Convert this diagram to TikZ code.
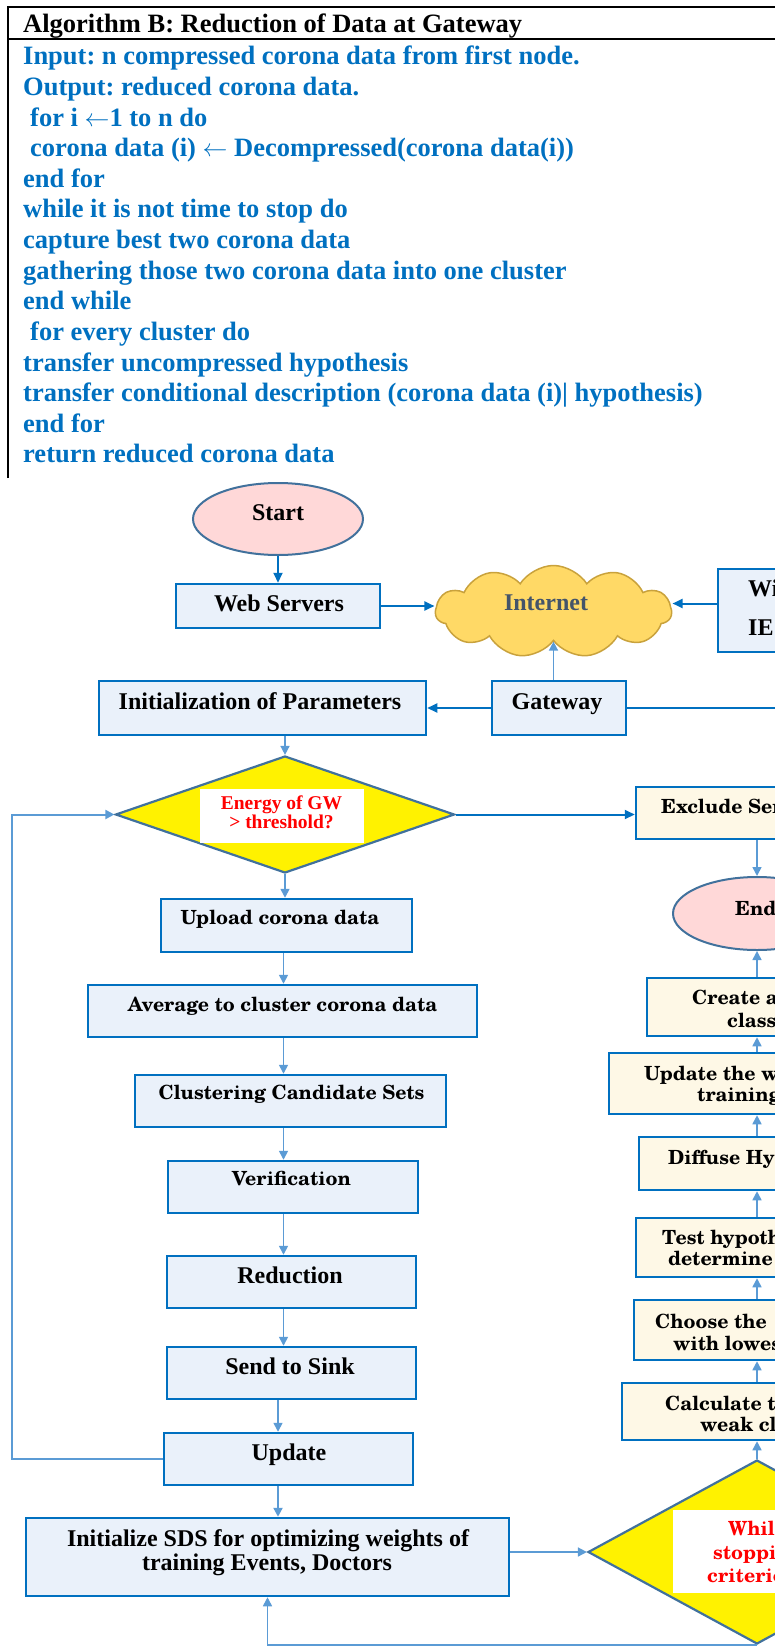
\documentclass[tikz,border=0pt]{standalone}
\usepackage{fontspec}
\setmainfont{Liberation Serif}
\newfontfamily\cent{TeX Gyre Schola}
\frenchspacing
\usetikzlibrary{shapes.geometric,shapes.symbols,arrows.meta,calc}
\definecolor{sblue}{HTML}{0070C0}
\definecolor{lblue}{HTML}{5B9BD5}
\definecolor{bfill}{HTML}{EAF1FA}
\definecolor{cfill}{HTML}{FEF8E6}
\definecolor{pinkf}{HTML}{FFD8D8}
\definecolor{steel}{HTML}{41719C}
\definecolor{goldf}{HTML}{FFD966}
\definecolor{goldb}{HTML}{C9A23C}
\definecolor{slate}{HTML}{44546A}
\definecolor{redt}{HTML}{FF0000}
\begin{document}
\begin{tikzpicture}[x=1pt,y=-1pt,
  lbox/.style={draw=sblue, fill=bfill, line width=2.5pt, rectangle, inner sep=0pt},
  rbox/.style={draw=sblue, fill=cfill, line width=2.5pt, rectangle, inner sep=0pt},
  term/.style={ellipse, draw=steel, fill=pinkf, line width=2pt, inner sep=0pt},
  dec/.style={diamond, draw=steel, fill=yellow, line width=2.2pt, inner sep=0pt},
  wbox/.style={rectangle, fill=white, inner sep=0pt},
  sarr/.style={draw=sblue, line width=2pt, -{Triangle[length=10pt,width=9pt]}},
  larr/.style={draw=lblue, line width=1.6pt, -{Triangle[length=9pt,width=9pt]}},
  sline/.style={draw=sblue, line width=2pt},
  algt/.style={anchor=base west, inner sep=0pt, text=sblue, font=\fontsize{26.5}{30}\selectfont\bfseries},
  ttx/.style={anchor=base, inner sep=0pt, font=\fontsize{24}{24}\selectfont\bfseries},
  ctx/.style={anchor=base, inner sep=0pt, font=\cent\fontsize{19.5}{22}\selectfont\bfseries},
  ctw/.style={ctx, anchor=base west},
]
\useasboundingbox (0,0) rectangle (775,1648);
\clip (0,0) rectangle (775,1648);

% ---------- Algorithm box ----------
\draw[black, line width=2pt] (8,478) -- (8,7) -- (800,7);
\draw[black, line width=2.5pt] (8,39) -- (800,39);
\node[algt, text=black] (a0) at (23,33) {Algorithm B: Reduction of Data at Gateway};
\node[algt] (a1) at (23,65) {Input: n compressed corona data from first node.};
\node[algt] (a2) at (23,95.6) {Output: reduced corona data.};
\node[algt] (a3) at (30,126.2) {for i $\leftarrow$1 to n do};
\node[algt] (a4) at (30,156.8) {corona data (i) $\leftarrow$ Decompressed(corona data(i))};
\node[algt] (a5) at (23,187.4) {end for};
\node[algt] (a6) at (23,218) {while it is not time to stop do};
\node[algt] (a7) at (23,248.6) {capture best two corona data};
\node[algt] (a8) at (23,279.2) {gathering those two corona data into one cluster};
\node[algt] (a9) at (23,309.8) {end while};
\node[algt] (a10) at (30,340.4) {for every cluster do};
\node[algt] (a11) at (23,371) {transfer uncompressed hypothesis};
\node[algt] (a12) at (23,401.6) {transfer conditional description (corona data (i)| hypothesis)};
\node[algt] (a13) at (23,432.2) {end for};
\node[algt] (a14) at (23,462.8) {return reduced corona data};

% ---------- Flowchart shapes ----------
\node[term, minimum width=170pt, minimum height=72pt] (start) at (278,519) {};
\node[lbox, minimum width=204pt, minimum height=44pt] (web) at (278,606) {};
\node[cloud, cloud puffs=11, cloud puff arc=115, aspect=2.6, draw=goldb, fill=goldf, line width=1.5pt,
      minimum width=236pt, minimum height=92pt, inner sep=0pt] (cloud) at (553.5,611.5) {};
\node[lbox, minimum width=200pt, minimum height=83pt] (wi) at (818,610.5) {};
\node[lbox, minimum width=327pt, minimum height=54pt] (init) at (262.5,708) {};
\node[lbox, minimum width=134pt, minimum height=54pt] (gw) at (559,708) {};
\node[dec, minimum width=339pt, minimum height=117pt] (d1) at (285,814.5) {};
\node[wbox, minimum width=164pt, minimum height=54pt] (w1) at (282,816) {};
\node[rbox, minimum width=242pt, minimum height=52pt] (exclude) at (757,813) {};
\node[term, minimum width=168pt, minimum height=73pt] (end) at (757,913.5) {};
\node[rbox, minimum width=220pt, minimum height=58pt] (create) at (757,1007) {};
\node[rbox, minimum width=296pt, minimum height=61pt] (updw) at (757,1083.5) {};
\node[rbox, minimum width=236pt, minimum height=53pt] (diffuse) at (757,1163.5) {};
\node[rbox, minimum width=242pt, minimum height=59pt] (test) at (757,1247.5) {};
\node[rbox, minimum width=246pt, minimum height=60pt] (choose) at (757,1330) {};
\node[rbox, minimum width=270pt, minimum height=57pt] (calc) at (757,1411.5) {};
\node[dec, minimum width=338pt, minimum height=184pt] (d2) at (757,1552) {};
\node[wbox, minimum width=168pt, minimum height=83pt] (w2) at (757,1551.5) {};
\node[lbox, minimum width=251pt, minimum height=53pt] (upload) at (286.5,925.5) {};
\node[lbox, minimum width=389pt, minimum height=52pt] (average) at (282.5,1011) {};
\node[lbox, minimum width=311pt, minimum height=52pt] (clust) at (290.5,1101) {};
\node[lbox, minimum width=250pt, minimum height=52pt] (verif) at (293,1187) {};
\node[lbox, minimum width=249pt, minimum height=52pt] (reduc) at (291.5,1282) {};
\node[lbox, minimum width=249pt, minimum height=52pt] (send) at (291.5,1373) {};
\node[lbox, minimum width=249pt, minimum height=52pt] (update) at (288.5,1459) {};
\node[lbox, minimum width=483pt, minimum height=78pt] (sds) at (267.5,1557) {};

% ---------- Texts ----------
\node[ttx] (t-start) at (278,520) {Start};
\node[ttx] (t-web) at (279,611) {Web Servers};
\node[ttx, text=slate] (t-net) at (546,610) {Internet};
\node[ttx, anchor=base west] (t-wi1) at (748,596) {Wi};
\node[ttx, anchor=base west] (t-wi2) at (748,635) {IE};
\node[ttx] (t-init) at (260,709) {Initialization of Parameters};
\node[ttx] (t-gw) at (557,709) {Gateway};
\node[ttx, text=redt, font=\fontsize{19.5}{20}\selectfont\bfseries] (t-d1a) at (281.5,809) {Energy of GW};
\node[ttx, text=redt, font=\fontsize{19.5}{20}\selectfont\bfseries] (t-d1b) at (281.5,828) {> threshold?};
\node[ctw] (t-excl) at (661,813) {Exclude Ser};
\node[ctw] (t-end) at (735,915) {End};
\node[ctw] (t-cr1) at (692,1004) {Create a};
\node[ctw] (t-cr2) at (727,1027) {class};
\node[ctw] (t-uw1) at (644,1080) {Update the w};
\node[ctw] (t-uw2) at (697,1101) {training};
\node[ctw] (t-dif) at (668,1164) {Diffuse Hy};
\node[ctw] (t-te1) at (662,1244) {Test hypoth};
\node[ctw] (t-te2) at (668,1265) {determine};
\node[ctw] (t-ch1) at (655,1328) {Choose the};
\node[ctw] (t-ch2) at (673,1350) {with lowes};
\node[ctw] (t-ca1) at (665,1410) {Calculate t};
\node[ctw] (t-ca2) at (700,1431) {weak cl};
\node[ctw, text=redt] (t-d2a) at (728,1535) {Whil};
\node[ctw, text=redt] (t-d2b) at (713,1559) {stoppi};
\node[ctw, text=redt] (t-d2c) at (707,1582) {criterio};
\node[ctx] (t-upl) at (280,924) {Upload corona data};
\node[ctx] (t-avg) at (282.5,1011) {Average to cluster corona data};
\node[ctx] (t-cls) at (291.5,1099) {Clustering Candidate Sets};
\node[ctx] (t-ver) at (291.5,1185) {Verification};
\node[ttx] (t-red) at (290,1283) {Reduction};
\node[ttx] (t-snd) at (290,1374) {Send to Sink};
\node[ttx] (t-upd) at (289,1460) {Update};
\node[ttx] (t-sds1) at (268,1546) {Initialize SDS for optimizing weights of};
\node[ttx] (t-sds2) at (267,1570) {training Events, Doctors};

% ---------- Connectors ----------
\coordinate (cA) at (283.5,0);
\coordinate (cB) at (278,0);
\coordinate (lx) at (12,0);
\coordinate (gwo) at (800,708);

\draw[sarr] (start.south) -- (web.north);
\draw[sarr] (web.east) -- (web.east -| cloud.west);
\draw[sarr] ([yshift=7pt]wi.west) -- ([yshift=7pt]wi.west -| cloud.east);
\draw[larr] (gw.north -| cloud.south) -- (cloud.south);
\draw[sarr] (gw.west) -- (init.east);
\draw[sline] (gw.east) -- (gwo);
\draw[larr] (init.south -| d1.north) -- (d1.north);
\draw[sarr] (d1.east) -- (d1.east -| exclude.west);
\draw[larr, line width=2pt] (update.west) -- (update.west -| lx) -- (d1.west -| lx) -- (d1.west);
\draw[larr] (d1.south) -- (upload.north -| d1.south);
\draw[larr] (upload.south -| cA) -- (average.north -| cA);
\draw[larr] (average.south -| cA) -- (clust.north -| cA);
\draw[larr] (clust.south -| cA) -- (verif.north -| cA);
\draw[larr] (verif.south -| cA) -- (reduc.north -| cA);
\draw[larr] (reduc.south -| cA) -- (send.north -| cA);
\draw[larr] (send.south -| cB) -- (update.north -| cB);
\draw[larr, line width=2.5pt] (update.south -| cB) -- (sds.north -| cB);
\draw[larr] (sds.east |- d2.west) -- (d2.west);
\draw[larr] (d2.south) -| (sds.south);
\draw[larr] (d2.north) -- (calc.south);
\draw[larr] (calc.north) -- (choose.south);
\draw[larr] (choose.north) -- (test.south);
\draw[larr] (test.north) -- (diffuse.south);
\draw[larr] (diffuse.north) -- (updw.south);
\draw[larr] (updw.north) -- (create.south);
\draw[larr] (create.north) -- (end.south);
\draw[larr] (exclude.south) -- (end.north);
\end{tikzpicture}
\end{document}
